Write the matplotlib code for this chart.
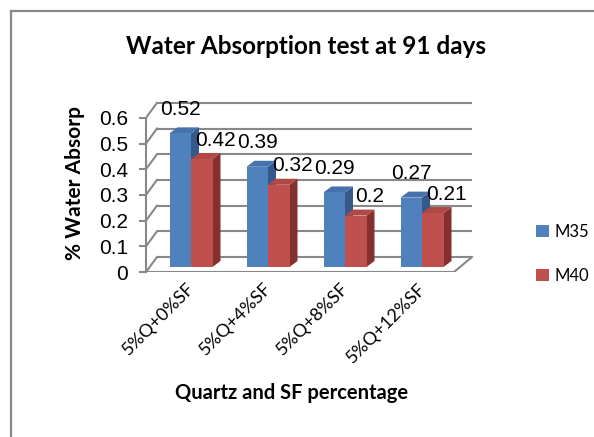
import numpy as np
import matplotlib
matplotlib.use("Agg")
import matplotlib.pyplot as plt
from matplotlib.patches import Polygon, Patch
from matplotlib.lines import Line2D

# ---- data ----
categories = ["5%Q+0%SF", "5%Q+4%SF", "5%Q+8%SF", "5%Q+12%SF"]
series_names = ["M35", "M40"]
m35 = [0.52, 0.39, 0.29, 0.27]
m40 = [0.42, 0.32, 0.20, 0.21]
yticks = [0, 0.1, 0.2, 0.3, 0.4, 0.5, 0.6]
title = "Water Absorption test at 91 days"
ylabel = "% Water Absorp"
xlabel = "Quartz and SF percentage"

# ---- style ----
W, H, DPI = 594, 437, 100
PXX, PXY = 77.0, 257.0          # pixels per category / per value unit
GRAY = "#888888"
CAL = ["Lato", "DejaVu Sans"]
ARI = ["Liberation Sans", "DejaVu Sans"]
front_face = ["#4F81BD", "#C0504D"]
top_face = ["#4673AC", "#B04845"]
side_face = ["#36598A", "#85302E"]

def dx(p):
    return p / PXX

def dy(p):
    return p / PXY

fig = plt.figure(figsize=(W / DPI, H / DPI), dpi=DPI)
fig.patch.set_facecolor("white")

ax_left, ax_bottom = 146, 272
xmin, xmax = -0.5, 3.5 + dx(20)
ymin, ymax = 0, 0.6 + dy(18)
ax = fig.add_axes([ax_left / W, (H - ax_bottom) / H,
                   (xmax - xmin) * PXX / W, (ymax - ymin) * PXY / H])
ax.set_xlim(xmin, xmax)
ax.set_ylim(ymin, ymax)
ax.set_facecolor("none")
for s in ["top", "right", "bottom"]:
    ax.spines[s].set_visible(False)
ax.spines["left"].set_bounds(0, 0.6)
ax.spines["left"].set_color(GRAY)
ax.spines["left"].set_linewidth(1.5)

# back wall gridlines and floor
wall_dy = dy(15)
wl, wr = dx(11), dx(18)
for v in yticks:
    ax.plot([-0.5 + wl, 3.5 + wr], [v + wall_dy, v + wall_dy], color=GRAY, lw=1.5,
            solid_capstyle="butt", zorder=1)
    ax.plot([-0.5, -0.5 + wl], [v, v + wall_dy], color=GRAY, lw=1.5, zorder=1)
ax.plot([-0.5, 3.5], [0, 0], color=GRAY, lw=1.5, zorder=1)
ax.plot([3.5, 3.5 + wr], [0, wall_dy], color=GRAY, lw=1.5, zorder=1)

# ticks
ax.set_yticks(yticks)
ax.set_yticklabels([f"{t:g}" for t in yticks], fontfamily=ARI, fontsize=15)
ax.tick_params(axis="y", direction="out", length=5, width=1.5, color=GRAY, pad=8)
label_shift = dx(2)
ax.set_xticks(np.arange(len(categories)) + label_shift)
ax.set_xticklabels(categories, rotation=45, ha="right", va="top",
                   rotation_mode="anchor", fontfamily=CAL, fontsize=13)
ax.tick_params(axis="x", length=0, pad=6)

# 3-D looking bars
off_x, off_y = dx(6.5), dy(5)
bw = dx(21.5)
depth_x, depth_y = dx(8), dy(6)
series = [m35, m40]
label_off = [(0, 24), (14, 19)]
for i in range(len(categories)):
    for s, vals in enumerate(series):
        v = vals[i]
        xl = i + off_x - bw + s * bw
        xr = xl + bw
        side = Polygon([(xr, off_y), (xr + depth_x, off_y + depth_y),
                        (xr + depth_x, v + off_y + depth_y), (xr, v + off_y)],
                       closed=True, facecolor=side_face[s], edgecolor="none", zorder=3 + 2 * s)
        top = Polygon([(xl, v + off_y), (xr, v + off_y),
                       (xr + depth_x, v + off_y + depth_y), (xl + depth_x, v + off_y + depth_y)],
                      closed=True, facecolor=top_face[s], edgecolor="none", zorder=3 + 2 * s)
        ax.add_patch(side)
        ax.add_patch(top)
        ax.bar(xl, v, bottom=off_y, width=bw, align="edge", color=front_face[s],
               edgecolor="none", zorder=4 + 2 * s)
        ax.annotate(f"{v:g}", xy=(xl + bw / 2, v + off_y), xytext=label_off[s],
                    textcoords="offset pixels", ha="center", va="center",
                    fontfamily=ARI, fontsize=15, zorder=10)

# texts
fig.text(306 / W, 1 - 47 / H, title, ha="center", va="center",
         fontfamily=CAL, fontsize=17.5, fontweight="bold")
fig.text(75 / W, 1 - 183 / H, ylabel, ha="center", va="center", rotation=90,
         fontfamily=CAL, fontsize=15, fontweight="bold")
fig.text(292 / W, 1 - 393 / H, xlabel, ha="center", va="center",
         fontfamily=CAL, fontsize=14.5, fontweight="bold")

# legend
handles = [Patch(facecolor=front_face[k], edgecolor="none", label=series_names[k])
           for k in range(2)]
fig.legend(handles=handles, loc="center left", bbox_to_anchor=(521 / W, 1 - 254 / H),
           frameon=False, handlelength=0.75, handleheight=0.75, handletextpad=0.35,
           labelspacing=1.7, prop={"family": CAL, "size": 12})

# outer border (top and left visible)
fig.add_artist(Line2D([10.5 / W, 10.5 / W], [0, 1 - 10.5 / H], color=GRAY, lw=1.6,
                      transform=fig.transFigure))
fig.add_artist(Line2D([10.5 / W, 1], [1 - 10.5 / H, 1 - 10.5 / H], color=GRAY, lw=1.6,
                      transform=fig.transFigure))

fig.savefig("out.png", dpi=DPI)
